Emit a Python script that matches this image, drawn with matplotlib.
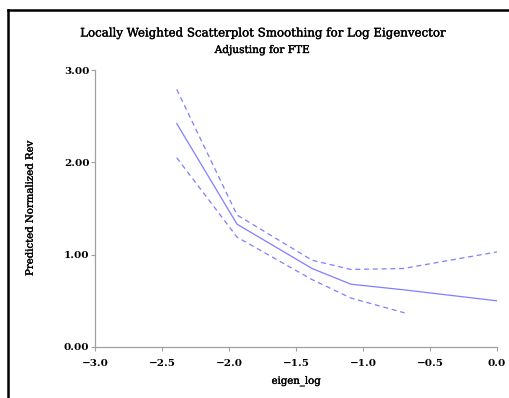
import matplotlib
matplotlib.use("Agg")
import matplotlib.pyplot as plt
from matplotlib.lines import Line2D
import matplotlib.patheffects as pe

x_fit = [-2.39, -1.94, -1.38, -1.09, -0.70, 0.0]
y_fit = [2.42, 1.33, 0.85, 0.68, 0.62, 0.50]
x_upper = [-2.39, -1.94, -1.38, -1.09, -0.70, 0.0]
y_upper = [2.79, 1.43, 0.94, 0.84, 0.85, 1.03]
x_lower = [-2.39, -1.94, -1.38, -1.09, -0.69]
y_lower = [2.05, 1.19, 0.73, 0.53, 0.37]
xticks = [-3.0, -2.5, -2.0, -1.5, -1.0, -0.5, 0.0]
yticks = [0.0, 1.0, 2.0, 3.0]

plt.rcParams['font.family'] = ['DejaVu Serif']
fig = plt.figure(figsize=(5.09, 3.98), dpi=100)
W, H = 509, 398
ax = fig.add_axes([95/W, 1-347/H, (497-95)/W, (347-70)/H])
col = '#7f7fff'
ax.plot(x_fit, y_fit, color=col, lw=0.9)
ax.plot(x_upper, y_upper, color=col, lw=0.9, ls=(0, (4, 3)))
ax.plot(x_lower, y_lower, color=col, lw=0.9, ls=(0, (4, 3)))
ax.set_xlim(-3.0, 0.0)
ax.set_ylim(0, 3.0)
ax.set_xticks(xticks)
ax.set_xticklabels([f"{v:.1f}".replace('-', '\u2212') for v in xticks], fontweight='bold', fontsize=7.5)
ax.set_yticks(yticks)
ax.set_yticklabels([f"{v:.2f}" for v in yticks], fontweight='bold', fontsize=7.5)
for s in ['top', 'right']:
    ax.spines[s].set_visible(False)
for s in ['left', 'bottom']:
    ax.spines[s].set_color('#a0a0a0')
    ax.spines[s].set_linewidth(0.9)
ax.tick_params(axis='x', length=3, width=0.8, color='#a0a0a0', pad=6)
ax.tick_params(axis='y', length=3, width=0.8, color='#a0a0a0', pad=1)
heavy = [pe.withStroke(linewidth=0.25, foreground='black')]
ax.set_xlabel('eigen_log', fontsize=7.3, labelpad=6, path_effects=heavy)
ax.set_ylabel('Predicted Normalized Rev', fontsize=7.3, labelpad=21, path_effects=heavy)
fig.text(262/W, 1-33/H, 'Locally Weighted Scatterplot Smoothing for Log Eigenvector',
         ha='center', va='center', fontsize=8.5, path_effects=heavy)
fig.text(262/W, 1-50/H, 'Adjusting for FTE', ha='center', va='center', fontsize=7.6,
         path_effects=heavy)
fig.add_artist(Line2D([8/W, 8/W], [0, 1-10/H], transform=fig.transFigure, color='black', lw=1.8))
fig.add_artist(Line2D([8/W, 1], [1-10/H, 1-10/H], transform=fig.transFigure, color='black', lw=1.8))
fig.savefig('out.png', dpi=100)
